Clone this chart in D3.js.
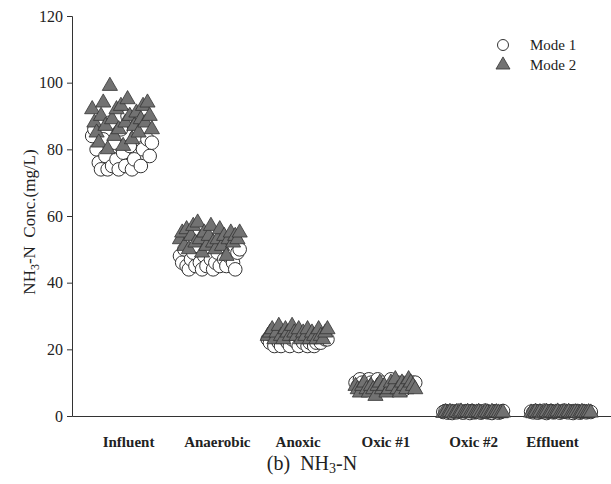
<!DOCTYPE html>
<html>
<head>
<meta charset="utf-8">
<script src="https://cdn.jsdelivr.net/npm/d3@7"></script>
<style>
  body { margin: 0; background: #fff; }
  text { font-family: "Liberation Serif", "Times New Roman", serif; fill: #222; }
</style>
</head>
<body>
<div id="chart"></div>
<script>
// categories along the x axis
const categories = ['Influent', 'Anaerobic', 'Anoxic', 'Oxic #1', 'Oxic #2', 'Effluent'];
const yTicks = [0, 20, 40, 60, 80, 100, 120];

// NH3-N (mg/L), one value per sample
const mode1 = [
  [84, 86, 80, 76, 74, 83, 78, 74, 88, 75, 82, 77, 74, 86, 79, 75, 90, 81, 74, 77, 84, 88, 75, 80, 86, 83, 78, 82],
  [48, 46, 50, 45, 44, 47, 49, 45, 51, 46, 44, 48, 45, 50, 47, 44, 46, 49, 45, 52, 47, 45, 48, 50, 46, 44, 49, 50],
  [23, 22, 24, 21, 23, 22, 21, 24, 23, 22, 21, 23, 24, 22, 21, 23, 22, 24, 21, 22, 23, 21, 22, 23, 22, 24, 23, 23],
  [10, 9, 11, 10, 8, 9, 11, 10, 9, 10, 11, 9, 10, 8, 9, 10, 11, 9, 8, 10, 9, 10, 8, 9, 10, 9, 10, 10],
  [1.2, 1.5, 1.0, 1.3, 0.9, 1.4, 1.1, 1.6, 1.2, 1.0, 1.4, 1.3, 0.9, 1.5, 1.1, 1.2, 1.4, 1.0, 1.3, 1.6, 1.1, 1.2, 0.9, 1.4, 1.3, 1.0, 1.2, 1.5],
  [1.3, 1.1, 1.5, 1.0, 1.4, 1.2, 1.6, 0.9, 1.3, 1.5, 1.1, 1.2, 1.4, 1.0, 1.3, 1.6, 1.2, 1.1, 1.4, 0.9, 1.3, 1.5, 1.0, 1.2, 1.4, 1.1, 1.3, 1.2]
];
const mode2 = [
  [92, 88, 85, 82, 90, 94, 87, 80, 99, 89, 84, 92, 86, 93, 81, 88, 95, 90, 83, 87, 91, 85, 89, 93, 88, 94, 90, 86],
  [53, 55, 51, 56, 50, 54, 57, 52, 58, 53, 49, 55, 51, 54, 57, 52, 50, 53, 56, 51, 54, 48, 53, 55, 52, 54, 53, 55],
  [24, 25, 26, 23, 25, 27, 24, 23, 26, 25, 24, 27, 25, 24, 26, 23, 25, 24, 26, 23, 25, 24, 23, 26, 24, 23, 25, 26],
  [9, 8, 7, 9, 10, 8, 7, 9, 8, 6, 9, 10, 8, 9, 7, 8, 10, 9, 11, 8, 7, 10, 9, 8, 11, 10, 9, 8],
  [0.9, 1.1, 0.8, 1.2, 1.0, 0.7, 1.1, 0.9, 1.3, 0.8, 1.0, 1.2, 0.9, 1.1, 0.8, 1.0, 1.2, 0.9, 0.7, 1.1, 1.0, 0.8, 1.2, 0.9, 1.1, 1.0, 0.8, 1.0],
  [1.0, 0.8, 1.2, 0.9, 1.1, 0.7, 1.0, 1.2, 0.8, 1.1, 0.9, 1.0, 1.3, 0.8, 1.0, 1.1, 0.9, 1.2, 0.8, 1.0, 1.1, 0.9, 0.8, 1.2, 1.0, 0.9, 1.1, 1.0]
];

const W = 611, H = 484;
const margin = { top: 16, right: 0, bottom: 68, left: 72 };

const svg = d3.select('#chart').append('svg')
  .attr('width', W)
  .attr('height', H);

// categories sit at 1..6, each sample spread across a band around its category
const x = d3.scaleLinear().domain([0.43, 6.57]).range([margin.left, W - margin.right]);
const y = d3.scaleLinear().domain([0, 120]).range([H - margin.bottom, margin.top]);
const spread = 0.68;
const labelShift = [6, 7, 0, 0, 0, -9]; // labels in the original aren't quite centred

function points(series) {
  const out = [];
  series.forEach((vals, ci) => {
    vals.forEach((v, j) => {
      const off = (j / (vals.length - 1) - 0.5) * spread;
      out.push({ x: ci + 1 + off, v });
    });
  });
  return out;
}

// axes
const yAxis = svg.append('g')
  .attr('transform', `translate(${margin.left},0)`)
  .call(d3.axisLeft(y).tickValues(yTicks).tickSize(5).tickPadding(4));
yAxis.select('.domain').attr('stroke', '#333');
yAxis.selectAll('.tick line').attr('stroke', '#333');
yAxis.selectAll('text')
  .style('font-family', '"Liberation Serif", serif')
  .style('font-size', '16px')
  .attr('fill', '#222');

const xAxis = svg.append('g')
  .attr('transform', `translate(0,${y(0)})`)
  .call(d3.axisBottom(x).tickValues(d3.range(1, 7)).tickSize(0).tickPadding(20)
    .tickFormat(d => categories[d - 1]));
xAxis.select('.domain').attr('stroke', '#333');
xAxis.selectAll('text')
  .attr('dx', (d, i) => labelShift[i])
  .style('font-family', '"Liberation Serif", serif')
  .style('font-size', '15px')
  .style('font-weight', 'bold')
  .attr('fill', '#222');

// Mode 1 circles
svg.append('g').selectAll('circle')
  .data(points(mode1))
  .join('circle')
  .attr('cx', d => x(d.x))
  .attr('cy', d => y(d.v))
  .attr('r', 6.8)
  .attr('fill', '#fff')
  .attr('stroke', '#333')
  .attr('stroke-width', 1);

// Mode 2 triangles
const tri = d3.symbol().type(d3.symbolTriangle).size(100);
svg.append('g').selectAll('path')
  .data(points(mode2))
  .join('path')
  .attr('transform', d => `translate(${x(d.x)},${y(d.v)})`)
  .attr('d', tri)
  .attr('fill', '#727272')
  .attr('stroke', '#333')
  .attr('stroke-width', 0.8);

// legend
const lg = svg.append('g').attr('transform', 'translate(503,45)');
lg.append('circle').attr('r', 5.5).attr('fill', '#fff').attr('stroke', '#333');
lg.append('text').attr('x', 27).attr('y', 5).style('font-size', '15px').text('Mode 1');
lg.append('path').attr('transform', 'translate(0,20)').attr('d', d3.symbol().type(d3.symbolTriangle).size(85))
  .attr('fill', '#727272').attr('stroke', '#333').attr('stroke-width', 0.8);
lg.append('text').attr('x', 27).attr('y', 25).style('font-size', '15px').text('Mode 2');

// y axis title
const yt = svg.append('text')
  .attr('transform', 'translate(35,222) rotate(-90)')
  .attr('text-anchor', 'middle')
  .style('font-size', '17px');
yt.append('tspan').text('NH');
yt.append('tspan').attr('dy', 4).style('font-size', '12px').text('3');
yt.append('tspan').attr('dy', -4).text('-N\u00a0\u00a0Conc.(mg/L)');

// caption
const cap = svg.append('text')
  .attr('x', 312).attr('y', 470)
  .attr('text-anchor', 'middle')
  .style('font-size', '20px');
cap.append('tspan').text('(b)\u00a0\u00a0NH');
cap.append('tspan').attr('dy', 3).style('font-size', '14px').text('3');
cap.append('tspan').attr('dy', -3).text('-N');
</script>
</body>
</html>
